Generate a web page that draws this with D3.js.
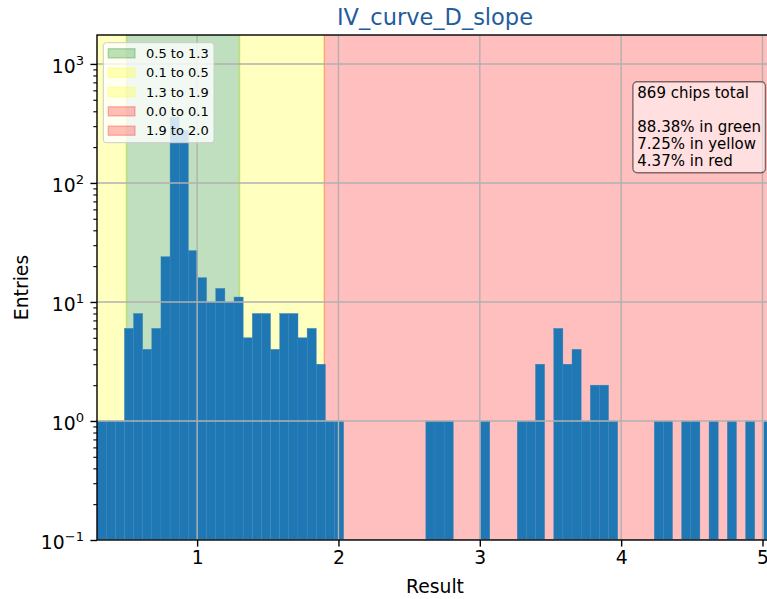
<!DOCTYPE html>
<html>
<head>
<meta charset="utf-8">
<script src="https://cdn.jsdelivr.net/npm/d3@7"></script>
<style>
  body { margin: 0; background: #fff; }
  svg { display: block; }
  text { font-family: "DejaVu Sans", sans-serif; fill: #000; }
</style>
</head>
<body>
<svg id="chart" width="767" height="599"></svg>
<script>
// Histogram of IV_curve_D_slope results (log-scaled entry counts)
const binStart = 0.2917;
const binWidth = 0.06463;
const counts = [
  1, 1, 1, 6, 8, 4, 6, 24, 358, 277,
  27, 16, 10, 13, 10, 11, 5, 8, 8, 4,
  8, 8, 5, 6, 3, 1, 1, 0, 0, 0,
  0, 0, 0, 0, 0, 0, 1, 1, 1, 0,
  0, 0, 1, 0, 0, 0, 1, 1, 3, 0,
  6, 3, 4, 1, 2, 2, 1, 0, 0, 0,
  0, 1, 1, 0, 1, 1, 0, 1, 0, 1,
  0, 1, 0, 1
];

// Acceptance bands (the last red band runs to the end of the axis)
const bandLabels = ["0.5 to 1.3", "0.1 to 0.5", "1.3 to 1.9", "0.0 to 0.1", "1.9 to 2.0"];
const bandLow    = [0.5, 0.1, 1.3, 0.0, 1.9];
const bandHigh   = [1.3, 0.5, 1.9, 0.1, 6.0];
const bandColors = ["green", "yellow", "yellow", "red", "red"];

const xTicks = [1, 2, 3, 4, 5];
const yTickExps = [-1, 0, 1, 2, 3];
const yMax = 1750;
const statLines = ["869 chips total", "", "88.38% in green", "7.25% in yellow", "4.37% in red"];

const svg = d3.select("#chart");
const plot = { left: 97, right: 773, top: 35, bottom: 540 };
const xMax = binStart + counts.length * binWidth;

const x = d3.scaleLinear().domain([binStart, xMax]).range([plot.left, plot.right]);
const y = d3.scaleLog().domain([0.1, yMax]).range([plot.bottom, plot.top]);

svg.append("defs").append("clipPath").attr("id", "plot-clip")
  .append("rect")
  .attr("x", plot.left).attr("y", plot.top)
  .attr("width", plot.right - plot.left).attr("height", plot.bottom - plot.top);

const inner = svg.append("g").attr("clip-path", "url(#plot-clip)");

// shaded bands
inner.append("g").selectAll("rect")
  .data(bandLabels.map((l, i) => ({ lo: bandLow[i], hi: bandHigh[i], c: bandColors[i] })))
  .join("rect")
  .attr("x", d => x(d.lo))
  .attr("y", plot.top - 5)
  .attr("width", d => x(d.hi) - x(d.lo))
  .attr("height", plot.bottom - plot.top + 10)
  .attr("fill", d => d.c).attr("fill-opacity", 0.25)
  .attr("stroke", d => d.c).attr("stroke-opacity", 0.25).attr("stroke-width", 1.4);

// histogram bars
const bins = counts.map((c, k) => ({
  x0: binStart + k * binWidth,
  x1: binStart + (k + 1) * binWidth,
  n: c
})).filter(d => d.n > 0);

inner.append("g").selectAll("rect")
  .data(bins)
  .join("rect")
  .attr("x", d => x(d.x0))
  .attr("width", d => x(d.x1) - x(d.x0))
  .attr("y", d => y(d.n))
  .attr("height", d => plot.bottom - y(d.n))
  .attr("fill", "#1f77b4")
  .attr("stroke", "#3a86bd").attr("stroke-width", 0.4);

// grid lines above bars
const grid = inner.append("g").attr("stroke", "#b0b0b0").attr("stroke-width", 1.4);
grid.selectAll("line.v").data(xTicks).join("line").attr("class", "v")
  .attr("x1", d => x(d)).attr("x2", d => x(d))
  .attr("y1", plot.top).attr("y2", plot.bottom);
grid.selectAll("line.h").data(yTickExps.map(e => Math.pow(10, e))).join("line").attr("class", "h")
  .attr("x1", plot.left).attr("x2", plot.right)
  .attr("y1", d => y(d)).attr("y2", d => y(d));

// axes
const xAxis = svg.append("g")
  .attr("transform", `translate(0,${plot.bottom})`)
  .call(d3.axisBottom(x).tickValues(xTicks).tickFormat(d3.format("d")).tickSize(6.6).tickPadding(4));
xAxis.select(".domain").remove();
xAxis.selectAll(".tick line").attr("stroke", "#000").attr("stroke-width", 1.4);
xAxis.selectAll(".tick text").attr("font-size", "18.75px").attr("font-family", "DejaVu Sans");

const yMajors = yTickExps.map(e => Math.pow(10, e));
const yMinors = [];
yTickExps.forEach(e => {
  for (let m = 2; m <= 9; m++) {
    const v = m * Math.pow(10, e);
    if (v < yMax) yMinors.push(v);
  }
});

const yAxis = svg.append("g")
  .attr("transform", `translate(${plot.left},0)`)
  .call(d3.axisLeft(y).tickValues(yMajors).tickFormat("").tickSize(6.6));
yAxis.select(".domain").remove();
yAxis.selectAll(".tick line").attr("stroke", "#000").attr("stroke-width", 1.4);

const yMinor = svg.append("g")
  .attr("transform", `translate(${plot.left},0)`)
  .call(d3.axisLeft(y).tickValues(yMinors).tickFormat("").tickSize(3.7));
yMinor.select(".domain").remove();
yMinor.selectAll(".tick line").attr("stroke", "#000").attr("stroke-width", 1.1);

// y tick labels as powers of ten
const yLab = svg.append("g");
yTickExps.forEach(e => {
  const t = yLab.append("text")
    .attr("x", 84)
    .attr("y", y(Math.pow(10, e)) + 9)
    .attr("text-anchor", "end")
    .attr("font-size", "18.75px");
  t.append("tspan").text("10");
  t.append("tspan").attr("dy", -8).attr("font-size", "13.1px")
    .text(e < 0 ? "\u2212" + Math.abs(e) : String(e));
});

// spines
const spines = svg.append("g").attr("stroke", "#000").attr("stroke-width", 1.4).attr("fill", "none");
spines.append("rect")
  .attr("x", plot.left).attr("y", plot.top)
  .attr("width", plot.right - plot.left).attr("height", plot.bottom - plot.top);

// titles
svg.append("text")
  .attr("x", (plot.left + plot.right) / 2).attr("y", 25)
  .attr("text-anchor", "middle").attr("font-size", "22.5px")
  .style("fill", "#1f5c9e")
  .text("IV_curve_D_slope");

svg.append("text")
  .attr("x", (plot.left + plot.right) / 2).attr("y", 593)
  .attr("text-anchor", "middle").attr("font-size", "18.75px")
  .text("Result");

svg.append("text")
  .attr("transform", `translate(28,${(plot.top + plot.bottom) / 2}) rotate(-90)`)
  .attr("text-anchor", "middle").attr("font-size", "18.75px")
  .text("Entries");

// legend
const legend = svg.append("g").attr("transform", "translate(103.3,42.7)");
legend.append("rect")
  .attr("width", 110.7).attr("height", 100).attr("rx", 3)
  .attr("fill", "#fff").attr("fill-opacity", 0.8)
  .attr("stroke", "#cccccc").attr("stroke-width", 1);
bandLabels.forEach((l, i) => {
  const cy = 10.6 + i * 19.35;
  legend.append("rect")
    .attr("x", 5).attr("y", cy - 4.6).attr("width", 26.7).attr("height", 9.2)
    .attr("fill", bandColors[i]).attr("fill-opacity", 0.25)
    .attr("stroke", bandColors[i]).attr("stroke-opacity", 0.25).attr("stroke-width", 1.4);
  legend.append("text")
    .attr("x", 42.7).attr("y", cy + 4.7)
    .attr("font-size", "13px")
    .text(l);
});

// summary box
const stats = svg.append("g");
const statText = stats.append("text").attr("font-size", "15px");
statLines.forEach((s, i) => {
  statText.append("tspan")
    .attr("x", 637.3).attr("y", 98 + i * 17)
    .text(s === "" ? "\u00a0" : s);
});
const bb = statText.node().getBBox();
stats.insert("rect", "text")
  .attr("x", bb.x - 4.4).attr("y", 81.7)
  .attr("width", bb.width + 8.8).attr("height", 172.7 - 81.7)
  .attr("rx", 4.4)
  .attr("fill", "#fff").attr("fill-opacity", 0.5)
  .attr("stroke", "#000").attr("stroke-opacity", 0.5).attr("stroke-width", 1.4);
</script>
</body>
</html>
